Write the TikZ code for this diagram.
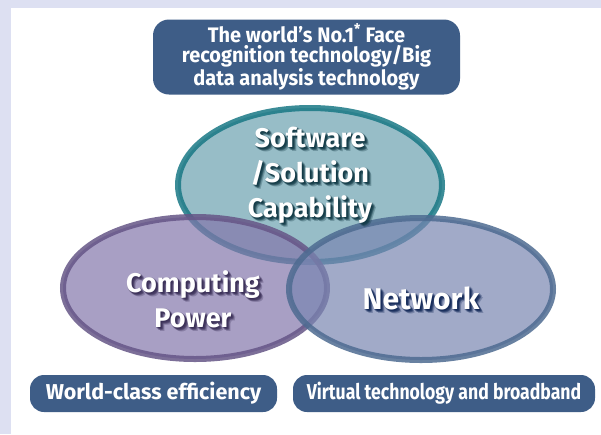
\documentclass[tikz,border=0pt]{standalone}
\usepackage{fontspec}
\setmainfont{Fira Sans}
\usetikzlibrary{shapes.geometric,calc}
\definecolor{pagebg}{HTML}{DDE0F2}
\definecolor{boxblue}{HTML}{3E5D87}
\definecolor{swfill}{HTML}{6CA2B0}
\definecolor{swline}{HTML}{197885}
\definecolor{cpfill}{HTML}{8477AB}
\definecolor{cpline}{HTML}{665687}
\definecolor{nwfill}{HTML}{7A86B2}
\definecolor{nwline}{HTML}{4E6B91}
\definecolor{swshade}{HTML}{0C3440}
\definecolor{cpshade}{HTML}{352A52}
\definecolor{nwshade}{HTML}{0D2454}
\tikzset{
  tagbox/.style={draw=none,fill=boxblue,rounded corners=14pt,text=white,
    font=\fontsize{21.5}{21}\selectfont\bfseries,align=center,inner sep=0pt},
  circ/.style={ellipse,line width=6pt,fill opacity=.7,draw opacity=.85,
    minimum width=264pt,minimum height=142pt,inner sep=0pt},
  lbl/.style={text=white,align=center,inner sep=0pt,
    font=\fontsize{27}{35}\selectfont\bfseries}
}
% label with a soft dark shadow
\newcommand\glowlabel[4]{%
  \foreach \dx/\dy in {1/1,2/2,3/3,2/1,1/2,3/2,2/3,0/1,1/0,4/4}
    \node[lbl,text=#4,text opacity=.28] at ($(#2)+(\dx,\dy)$) {#3};
  \node[lbl] (#1) at (#2) {#3};}
\begin{document}
\begin{tikzpicture}[x=1pt,y=-1pt]
\fill[pagebg] (0,0) rectangle (601,434);
\fill[white] (11,8) rectangle (601,434);
%
\node[tagbox,minimum width=307pt,minimum height=75pt,rounded corners=16pt,
  font=\fontsize{21}{20.5}\selectfont\bfseries\addfontfeatures{FakeStretch=0.95}]
  (top) at (306.5,57) {The world’s No.1\textsuperscript{*} Face\\
  recognition technology/Big\\data analysis technology};
%
\node[circ,fill=swfill,draw=swline,minimum height=154pt] (sw) at (310,185) {};
\node[circ,fill=cpfill,draw=cpline] (cp) at (195,288) {};
\node[circ,fill=nwfill,draw=nwline] (nw) at (421,289) {};
%
\glowlabel{swt}{310,175}{Software\\/Solution\\Capability}{swshade}
\glowlabel{cpt}{193,299}{Computing\\Power}{cpshade}
\tikzset{lbl/.append style={font=\fontsize{30}{35}\selectfont\bfseries}}
\glowlabel{nwt}{421,298}{Network}{nwshade}
%
\node[tagbox,minimum width=247pt,minimum height=37pt] (eff) at (153.5,393.5)
  {World-class efficiency};
\node[tagbox,minimum width=302pt,minimum height=37pt,
  font=\fontsize{21.5}{21}\selectfont\bfseries\addfontfeatures{FakeStretch=0.82}]
  (vt) at (444,393.5) {Virtual technology and broadband};
\end{tikzpicture}
\end{document}
